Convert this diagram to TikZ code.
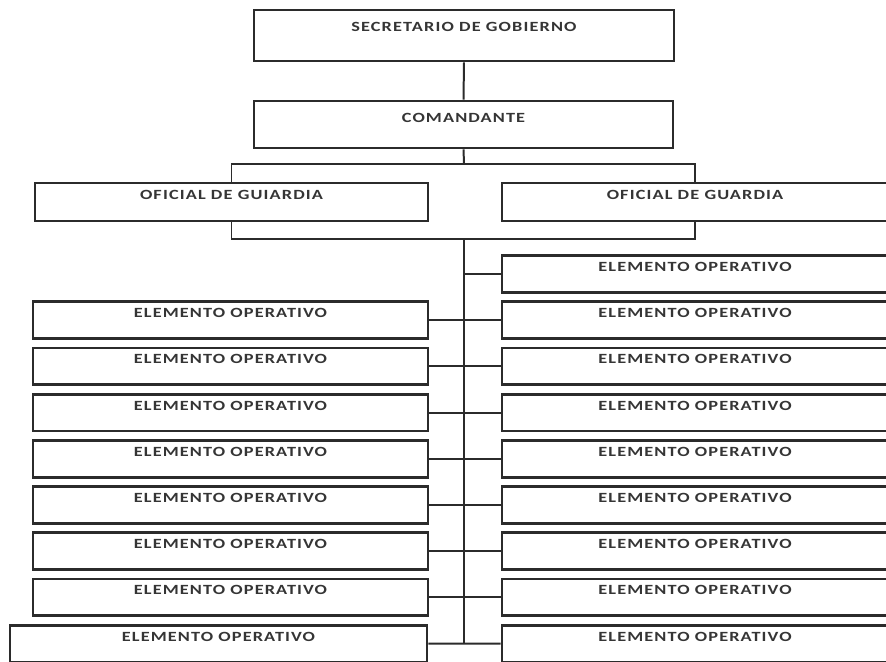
\documentclass[tikz,border=0pt]{standalone}
\usepackage{fontspec}
\newfontfamily\rotulo[LetterSpace=8, FakeStretch=1.3]{Carlito}
\usetikzlibrary{positioning, calc}
\definecolor{tinta}{HTML}{2B2B2B}
\definecolor{letra}{HTML}{353535}
\tikzset{
  caja/.style={draw=tinta, line width=2.4pt, fill=white, inner xsep=0pt, inner ysep=0pt,
    text height=13.6pt, text depth=17.9pt, text=letra,
    font=\rotulo\bfseries\fontsize{12}{14}\selectfont},
  linea/.style={draw=tinta, line width=1.7pt},
}
\begin{document}
\begin{tikzpicture}[x=0.03cm, y=-0.03cm]
  \useasboundingbox (0,0) rectangle (886,661);
  % mando
  \node[caja, minimum width=12.6cm, text height=18.7pt, text depth=24.8pt] (sec) at (464,35.5) {SECRETARIO DE GOBIERNO};
  \node[caja, minimum width=12.57cm, text height=17.9pt, text depth=22.1pt] (com) at (463.5,124.5) {COMANDANTE};
  \node[caja, minimum width=11.79cm, text height=13.6pt, text depth=18.7pt] (gL) at (231.5,202) {OFICIAL DE GUIARDIA};
  \node[caja, minimum width=11.58cm, text height=13.6pt, text depth=18.7pt] (gR) at (695,202) {OFICIAL DE GUARDIA};
  % elementos
  \foreach \i in {1,...,9}
    \node[caja, minimum width=11.58cm] (r\i) at (695,{274+46.2*(\i-1)}) {ELEMENTO OPERATIVO};
  \foreach \i in {2,...,8}
    \node[caja, minimum width=11.85cm] (l\i) at (230.5,{274+46.2*(\i-1)}) {ELEMENTO OPERATIVO};
  \node[caja, minimum width=12.51cm] (l9) at (218.5,643.6) {ELEMENTO OPERATIVO};
  % lineas
  \coordinate (arriba) at (464,163.5);
  \coordinate (tronco) at (464,239);
  \draw[linea] (sec.south) -- (com.north);
  \draw[linea] (com.south) -- (arriba);
  \draw[linea] (gL.north) |- (arriba) -| (gR.north);
  \draw[linea] (gL.south) |- (tronco) -| (gR.south);
  \draw[linea] (tronco) -- (tronco |- r9.west);
  \draw[linea] (tronco |- r1.west) -- (r1.west);
  \foreach \i in {2,...,9}
    \draw[linea] (l\i.east) -- (r\i.west);
\end{tikzpicture}
\end{document}
